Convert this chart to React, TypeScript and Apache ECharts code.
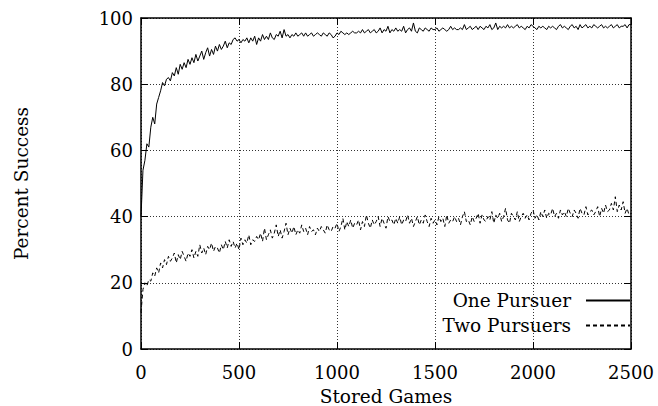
import React, { useEffect, useRef } from "react";
import * as echarts from "echarts";

const STEP = 10;
const xTicks = [0, 500, 1000, 1500, 2000, 2500];
const yTicks = [0, 20, 40, 60, 80, 100];

const onePursuer = [
  40, 54, 57, 62, 61, 67, 70, 68, 74, 76,
  78, 80.5, 79.5, 81.5, 82, 81, 83.5, 82.5, 85, 83,
  86, 84.5, 86.5, 85, 87.5, 86, 88, 86.5, 89, 87,
  88.5, 90, 87.5, 89.5, 91, 88.5, 90.5, 89, 91.5, 90,
  92, 90.5, 91.5, 93, 91, 92.5, 92, 93.5, 94, 93,
  93.5, 92.5, 93.5, 93, 94, 92.5, 94, 93, 94.5, 92,
  94, 93, 95, 93.5, 94.5, 93.5, 95.5, 94, 93.5, 95,
  94.5, 96, 94, 96.5, 94.5, 95, 94, 95, 94.5, 95.5,
  94.5, 95, 95.5, 94.5, 95.5, 94.5, 95, 95.5, 94.5, 95,
  95.5, 95, 94.5, 95.5, 95, 94.5, 95.5, 95, 94, 94.5,
  95.5, 95, 96, 95.5, 95, 95.5, 95, 95.5, 96, 95.5,
  95.5, 96, 95.5, 96.5, 95.5, 96, 96.5, 95.5, 96, 96.5,
  95.5, 96, 97, 95.5, 96.5, 96, 97.5, 95.5, 96.5, 96,
  97, 96, 96.5, 96, 97.5, 95.5, 96.5, 97, 96, 98.5,
  96, 95.5, 97, 96.5, 96, 97, 96.5, 96, 97, 96.5,
  96.5, 97, 96, 96.5, 97, 96.5, 96, 96.5, 97.5, 96.5,
  97, 96.5, 96.5, 97, 96.5, 98, 96.5, 97, 97.5, 96.5,
  97, 97.5, 96.5, 97.5, 97, 96.5, 97.5, 97, 98, 96.5,
  97, 98.5, 96.5, 97.5, 97, 97.5, 97, 98, 97, 97.5,
  97, 97.5, 98, 97, 97.5, 97, 96.5, 97.5, 97, 98,
  97.5, 97, 96.5, 97.5, 97, 97.5, 97, 96.5, 97.5, 97,
  97.5, 97, 96.5, 97.5, 98, 97, 97.5, 97, 96.5, 97.5,
  98, 97, 97.5, 96.5, 98, 97, 97.5, 98, 97, 97.5,
  97, 98, 97.5, 97, 97.5, 98, 97, 97.5, 97, 97.5,
  98, 97, 97.5, 98, 97, 97.5, 97.5, 98, 97, 98, 98,
];

const twoPursuers = [
  11, 18, 20, 19, 21, 20.5, 23, 22, 24.5, 23,
  26, 24.5, 27, 25.5, 28, 26.5, 27.5, 29, 26, 28.5,
  27, 29.5, 28, 26.5, 29, 28, 30, 27.5, 29.5, 28,
  31.5, 29, 30.5, 28.5, 31, 30, 32, 29.5, 31, 30.5,
  29, 31.5, 30, 32.5, 30.5, 33, 31, 32.5, 30.5, 32,
  30, 33.5, 31.5, 33, 32, 34.5, 31.5, 33, 32.5, 34,
  33, 35, 32.5, 36.5, 33, 34.5, 36, 33.5, 35, 37.5,
  34, 36, 33.5, 35.5, 38, 34.5, 36.5, 35, 37, 34.5,
  36, 35, 37.5, 35.5, 36.5, 34.5, 37, 35.5, 36, 34.5,
  36.5, 35.5, 37, 36, 35, 37.5, 36, 35.5, 37, 36.5,
  38, 35.5, 37, 39.5, 36, 38.5, 37, 39, 36.5, 38,
  37.5, 39, 36, 38.5, 37, 40.5, 38, 36.5, 39, 37.5,
  38.5, 40, 37, 39.5, 38, 36.5, 40, 38.5, 39, 37.5,
  39.5, 38, 40, 37.5, 39, 38.5, 40.5, 38, 39.5, 37,
  38.5, 40, 37.5, 39, 38, 40.5, 38.5, 37, 39.5, 38,
  39, 37.5, 40, 38.5, 39.5, 37, 40.5, 38, 39, 38.5,
  40, 38.5, 39.5, 37.5, 40, 41.5, 38.5, 39, 37.5, 40,
  38.5, 39.5, 41, 38, 40.5, 39, 38.5, 40, 39, 41.5,
  38, 40.5, 39.5, 41, 38.5, 40, 42.5, 39, 38, 41,
  40, 39, 41.5, 38.5, 40, 41, 39.5, 40.5, 39, 41,
  42, 39.5, 40.5, 39, 41.5, 40, 42, 39.5, 41, 40.5,
  42.5, 40, 41, 39.5, 42, 40.5, 41.5, 40, 42.5, 41,
  40, 42, 41, 39.5, 42.5, 41, 40.5, 43, 40.5, 41.5,
  42, 40.5, 41.5, 43, 40, 42.5, 41, 43.5, 41.5, 42,
  44, 42, 46, 41.5, 43.5, 42, 44.5, 41, 42.5, 40.5, 41,
];

const FONT = "DejaVu Serif";

export default function App() {
  const ref = useRef<HTMLDivElement>(null);
  useEffect(() => {
    if (!ref.current) return;
    const chart = echarts.init(ref.current, null, { renderer: "svg" });
    const toPairs = (arr: number[]) => arr.map((v, i) => [i * STEP, v]);
    const axisLine = { show: true, onZero: false, lineStyle: { color: "#000", width: 1.5 } };
    const ticksIn = { show: true, inside: true, length: 7, lineStyle: { color: "#000", width: 1 } };
    const grid = { show: true, lineStyle: { color: "#333", width: 1, type: [1, 2] } };
    const plain = (v: number) => String(v);
    chart.setOption({
      animation: false,
      backgroundColor: "#fff",
      textStyle: { fontFamily: FONT },
      grid: { left: 141, right: 27, top: 18, bottom: 57, containLabel: false, outerBoundsMode: "none" },
      legend: {
        orient: "vertical",
        right: 27,
        top: 291,
        padding: 0,
        align: "right",
        itemWidth: 44,
        itemHeight: 12,
        itemGap: 6,
        itemStyle: { opacity: 0 },
        textStyle: { fontFamily: FONT, fontSize: 18.5, color: "#000", padding: [0, 10, 0, 0] },
        data: ["One Pursuer", "Two Pursuers"],
      },
      xAxis: [
        {
          type: "value",
          min: 0,
          max: 2500,
          interval: 500,
          name: "Stored Games",
          nameLocation: "middle",
          nameGap: 38,
          nameTextStyle: { fontFamily: FONT, fontSize: 18.5, color: "#000" },
          axisLine,
          axisTick: ticksIn,
          splitLine: grid,
          axisLabel: { fontFamily: FONT, fontSize: 18, color: "#000", margin: 14, formatter: plain },
        },
        {
          type: "value",
          position: "top",
          min: 0,
          max: 2500,
          interval: 500,
          axisLine,
          axisTick: ticksIn,
          splitLine: { show: false },
          axisLabel: { show: false },
        },
      ],
      yAxis: [
        {
          type: "value",
          min: 0,
          max: 100,
          interval: 20,
          name: "Percent Success",
          nameLocation: "middle",
          nameGap: 110,
          nameTextStyle: { fontFamily: FONT, fontSize: 18.5, color: "#000" },
          axisLine,
          axisTick: ticksIn,
          splitLine: grid,
          axisLabel: { fontFamily: FONT, fontSize: 18, color: "#000", margin: 8, formatter: plain },
        },
        {
          type: "value",
          position: "right",
          min: 0,
          max: 100,
          interval: 20,
          axisLine,
          axisTick: ticksIn,
          splitLine: { show: false },
          axisLabel: { show: false },
        },
      ],
      series: [
        {
          name: "One Pursuer",
          type: "line",
          data: toPairs(onePursuer),
          showSymbol: false,
          symbol: "none",
          lineStyle: { color: "#000", width: 1 },
          itemStyle: { color: "#000" },
        },
        {
          name: "Two Pursuers",
          type: "line",
          data: toPairs(twoPursuers),
          showSymbol: false,
          symbol: "none",
          lineStyle: { color: "#000", width: 1, type: [4, 3] },
          itemStyle: { color: "#000" },
        },
      ],
    });
    return () => chart.dispose();
  }, []);
  return <div ref={ref} style={{ width: 658, height: 406, position: "fixed", left: 0, top: 0 }} />;
}
